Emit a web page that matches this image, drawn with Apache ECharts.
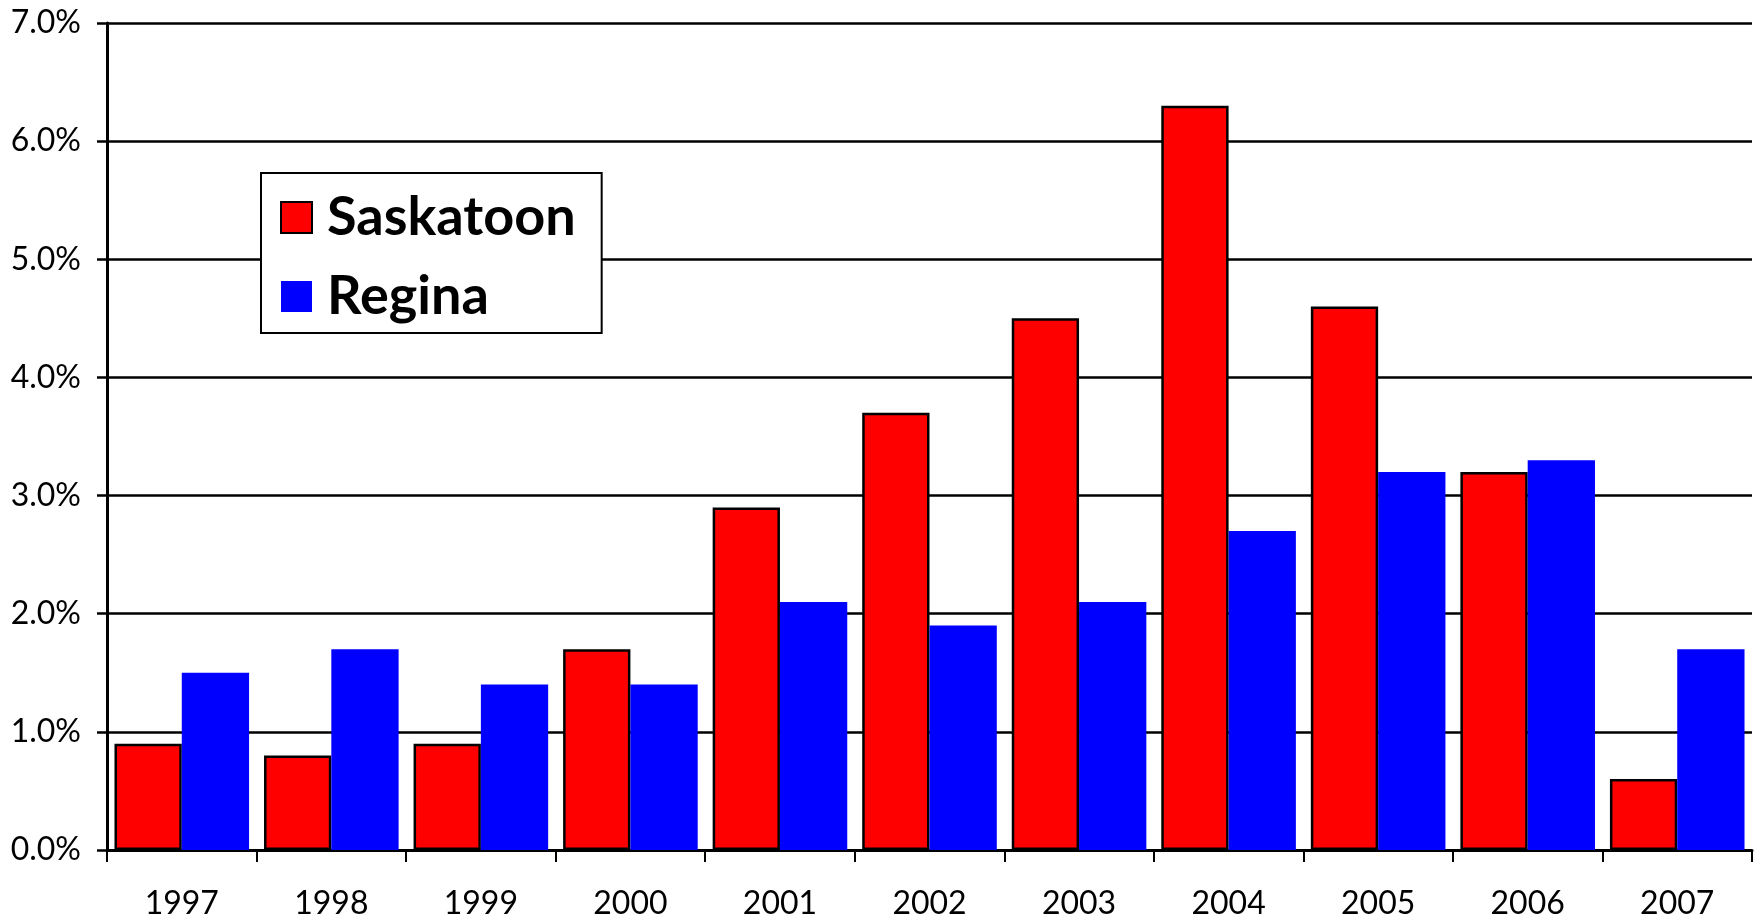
<!DOCTYPE html>
<html>
<head>
<meta charset="utf-8">
<script src="https://cdn.jsdelivr.net/npm/echarts@6/dist/echarts.min.js"></script>
<style>html,body{margin:0;padding:0;background:#fff;}#c{width:1760px;height:920px;}</style>
</head>
<body>
<div id="c"></div>
<script>
const years = ['1997','1998','1999','2000','2001','2002','2003','2004','2005','2006','2007'];
const saskatoon = [0.9, 0.8, 0.9, 1.7, 2.9, 3.7, 4.5, 6.3, 4.6, 3.2, 0.6];
const regina = [1.5, 1.7, 1.4, 1.4, 2.1, 1.9, 2.1, 2.7, 3.2, 3.3, 1.7];
const seriesNames = ['Saskatoon', 'Regina'];

const chart = echarts.init(document.getElementById('c'), null, {renderer: 'canvas'});
const fontFam = 'Lato, "Open Sans", sans-serif';
chart.setOption({
  animation: false,
  backgroundColor: '#ffffff',
  grid: {left: 107, right: 8, top: 23, bottom: 70, containLabel: false},
  legend: {
    orient: 'vertical',
    left: 261, top: 173,
    padding: [16, 26, 8, 19],
    itemGap: 22,
    itemWidth: 31, itemHeight: 31,
    backgroundColor: '#ffffff',
    borderColor: '#000000', borderWidth: 2,
    textStyle: {fontFamily: fontFam, fontWeight: 'bold', fontSize: 54, color: '#000', padding: [0,0,0,10], lineHeight: 57},
    data: [
      {name: seriesNames[0], icon: 'rect', itemStyle: {color: '#ff0000', borderColor: '#000', borderWidth: 2}},
      {name: seriesNames[1], icon: 'rect', itemStyle: {color: '#0000ff', borderWidth: 0}}
    ]
  },
  xAxis: {
    type: 'category',
    data: years,
    boundaryGap: true,
    axisLine: {lineStyle: {color: '#000', width: 3}},
    axisTick: {show: true, interval: 0, length: 12, lineStyle: {color: '#000', width: 2}},
    axisLabel: {fontFamily: fontFam, fontSize: 32, color: '#000', margin: 38, interval: 0},
    splitLine: {show: false}
  },
  yAxis: {
    type: 'value',
    min: 0, max: 7, interval: 1,
    axisLine: {show: true, lineStyle: {color: '#000', width: 3}},
    axisTick: {show: true, length: 10, lineStyle: {color: '#000', width: 2.5}},
    axisLabel: {fontFamily: fontFam, fontSize: 32, color: '#000', margin: 26, formatter: v => v.toFixed(1) + '%'},
    splitLine: {show: true, lineStyle: {color: '#000', width: 2.5}}
  },
  series: [
    {name: seriesNames[0], type: 'bar', data: saskatoon, barGap: '0%', barCategoryGap: '10%',
     itemStyle: {color: '#ff0000', borderColor: '#000', borderWidth: 2.5}},
    {name: seriesNames[1], type: 'bar', data: regina, barGap: '0%', barCategoryGap: '10%',
     itemStyle: {color: '#0000ff', borderWidth: 0}}
  ]
});
</script>
</body>
</html>
